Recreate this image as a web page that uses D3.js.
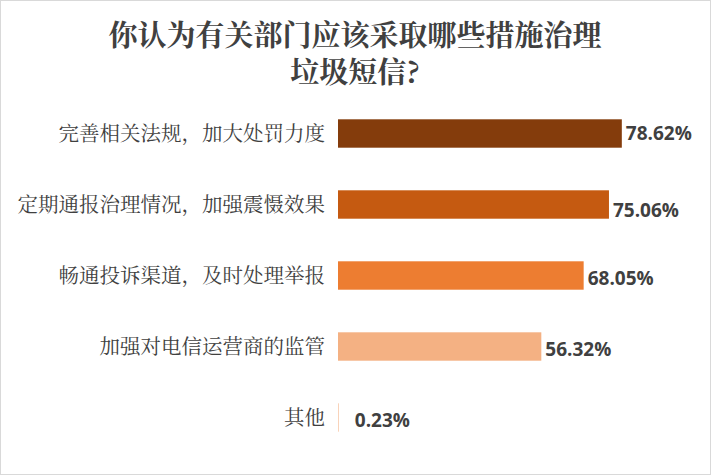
<!DOCTYPE html>
<html><head><meta charset="utf-8">
<script src="https://cdn.jsdelivr.net/npm/d3@7"></script>
<style>body{margin:0;background:#fff}</style>
</head><body>
<svg id="chart" width="711" height="475"></svg>
<script>
const categories = ['完善相关法规，加大处罚力度', '定期通报治理情况，加强震慑效果', '畅通投诉渠道，及时处理举报', '加强对电信运营商的监管', '其他'];
const values = [78.62, 75.06, 68.05, 56.32, 0.23];
const colors = ['#843c0c', '#c55a11', '#ed7d31', '#f4b183', '#f8cbad'];

const svg = d3.select('#chart');
svg.append('rect').attr('x', 0.5).attr('y', 0.5).attr('width', 710).attr('height', 474)
  .attr('fill', '#fff').attr('stroke', '#d9d9d9');

// title
const title = svg.append('text').attr('text-anchor', 'middle')
  .style('font-family', '"Noto Serif CJK SC","Noto Sans CJK SC",serif')
  .style('font-size', '29px').style('font-weight', 'bold').style('fill', '#404040');
title.append('tspan').attr('x', 355).attr('y', 46).text('你认为有关部门应该采取哪些措施治理');
title.append('tspan').attr('x', 355).attr('y', 83).text('垃圾短信?');

const x = d3.scaleLinear().domain([0, 100]).range([338, 699]);
const y = d3.scaleBand().domain(categories).range([98, 453]).paddingInner(0.6).paddingOuter(0.3);

svg.selectAll('rect.bar').data(categories).enter().append('rect')
  .attr('class', 'bar')
  .attr('x', x(0)).attr('y', d => y(d))
  .attr('width', (d, i) => x(values[i]) - x(0))
  .attr('height', y.bandwidth())
  .attr('fill', (d, i) => colors[i]);

svg.selectAll('text.cat').data(categories).enter().append('text')
  .attr('class', 'cat')
  .attr('x', 325).attr('y', d => y(d) + y.bandwidth() / 2)
  .attr('dy', '0.35em').attr('text-anchor', 'end')
  .style('font-family', '"Noto Serif CJK SC","Noto Sans CJK SC",serif')
  .style('font-size', '20.5px').style('fill', '#404040')
  .text(d => d);

svg.selectAll('text.val').data(categories).enter().append('text')
  .attr('class', 'val')
  .attr('x', (d, i) => x(values[i]) + (i === 4 ? 16 : 4))
  .attr('y', (d, i) => y(d) + y.bandwidth() / 2 + [0, 6, 3, 3, 3][i])
  .attr('dy', '0.35em')
  .style('font-family', '"Open Sans","Liberation Sans",sans-serif')
  .style('font-weight', 'bold')
  .style('font-size', '19px').style('fill', '#404040')
  .text((d, i) => values[i].toFixed(2) + '%');
</script>
</body></html>
